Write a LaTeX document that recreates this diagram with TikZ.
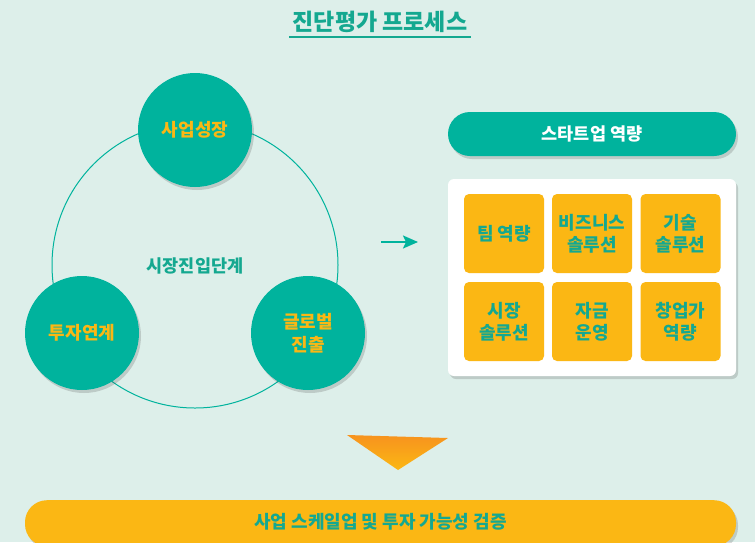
\documentclass[tikz,border=0pt]{standalone}
\usepackage{fontspec}
\setmainfont{Noto Sans CJK KR}
\usetikzlibrary{shadows,arrows.meta,shapes.misc}
\definecolor{bgc}{HTML}{DDEFEA}
\definecolor{tealc}{HTML}{00B39D}
\definecolor{tealtxt}{HTML}{14A890}
\definecolor{yel}{HTML}{FBB714}
\definecolor{orng}{HTML}{F7931E}
\tikzset{
  shad/.style={drop shadow={shadow xshift=2pt,shadow yshift=-3pt,opacity=0.22,fill=black!70}},
  circ/.style={circle,fill=tealc,minimum size=114pt,inner sep=0pt,shad,text=yel,font=\fontsize{18}{23}\selectfont\bfseries,align=center},
  cell/.style={rectangle,rounded corners=5pt,fill=yel,minimum width=80pt,minimum height=79pt,inner sep=0pt,text=tealtxt,font=\fontsize{18}{22}\selectfont\bfseries,align=center},
  pill/.style={rounded corners=22pt,inner sep=0pt,shad,font=\fontsize{17.5}{20}\selectfont\bfseries},
}
\begin{document}
\begin{tikzpicture}[x=1pt,y=-1pt]
\useasboundingbox (0,0) rectangle (755,542);
\fill[bgc] (0,0) rectangle (755,542);
\clip (0,0) rectangle (755,542);
% title
\node[text=tealtxt,font=\fontsize{23}{26}\selectfont\bfseries] (title) at (380,22) {진단평가 프로세스};
\draw[tealtxt,line width=1.5pt] (title.south west |- 0,37) coordinate (u1) -- (title.south east |- 0,37) coordinate (u2);
% ring
\node[circle,draw=tealc,line width=1pt,minimum size=286pt,inner sep=0pt] (ring) at (195,265) {};
\node[text=tealtxt,font=\fontsize{17.5}{20}\selectfont\bfseries] (center) at (195,266) {시장진입단계};
\node[circ] (growth) at (195,130) {사업성장};
\node[circ] (invest) at (82,333) {투자연계};
\node[circ] (global) at (308,333) {글로벌\\진출};
% arrow
\coordinate (a1) at (381,242);
\coordinate (a2) at (418,242);
\draw[tealc,line width=2pt,-{Stealth[length=15pt,width=13pt,inset=3pt]}] (a1) -- (a2);
% startup capability
\node[pill,fill=tealc,text=white,minimum width=288pt,minimum height=44pt] (cap) at (592,134) {스타트업 역량};
\node[rectangle,rounded corners=6pt,fill=white,minimum width=288pt,minimum height=197pt,inner sep=0pt,shad] (panel) at (592,277.5) {};
\node[cell] (c1) at (504,233.5) {팀 역량};
\node[cell] (c2) at (592,233.5) {비즈니스\\솔루션};
\node[cell] (c3) at (680.5,233.5) {기술\\솔루션};
\node[cell] (c4) at (504,321.5) {시장\\솔루션};
\node[cell] (c5) at (592,321.5) {자금\\운영};
\node[cell] (c6) at (680.5,321.5) {창업가\\역량};
% down triangle
\shade[top color=orng,bottom color=yel] (347,435) coordinate (t1) -- (448,438) coordinate (t2) -- (398,470) coordinate (t3) -- cycle;
% bottom pill
\node[pill,fill=yel,text=tealtxt,minimum width=711pt,minimum height=46pt,anchor=north] (verify) at (380.5,500) {};
\node[text=tealtxt,font=\fontsize{18}{20}\selectfont\bfseries] (vtext) at (380.5,522) {사업 스케일업 및 투자 가능성 검증};
\end{tikzpicture}
\end{document}
